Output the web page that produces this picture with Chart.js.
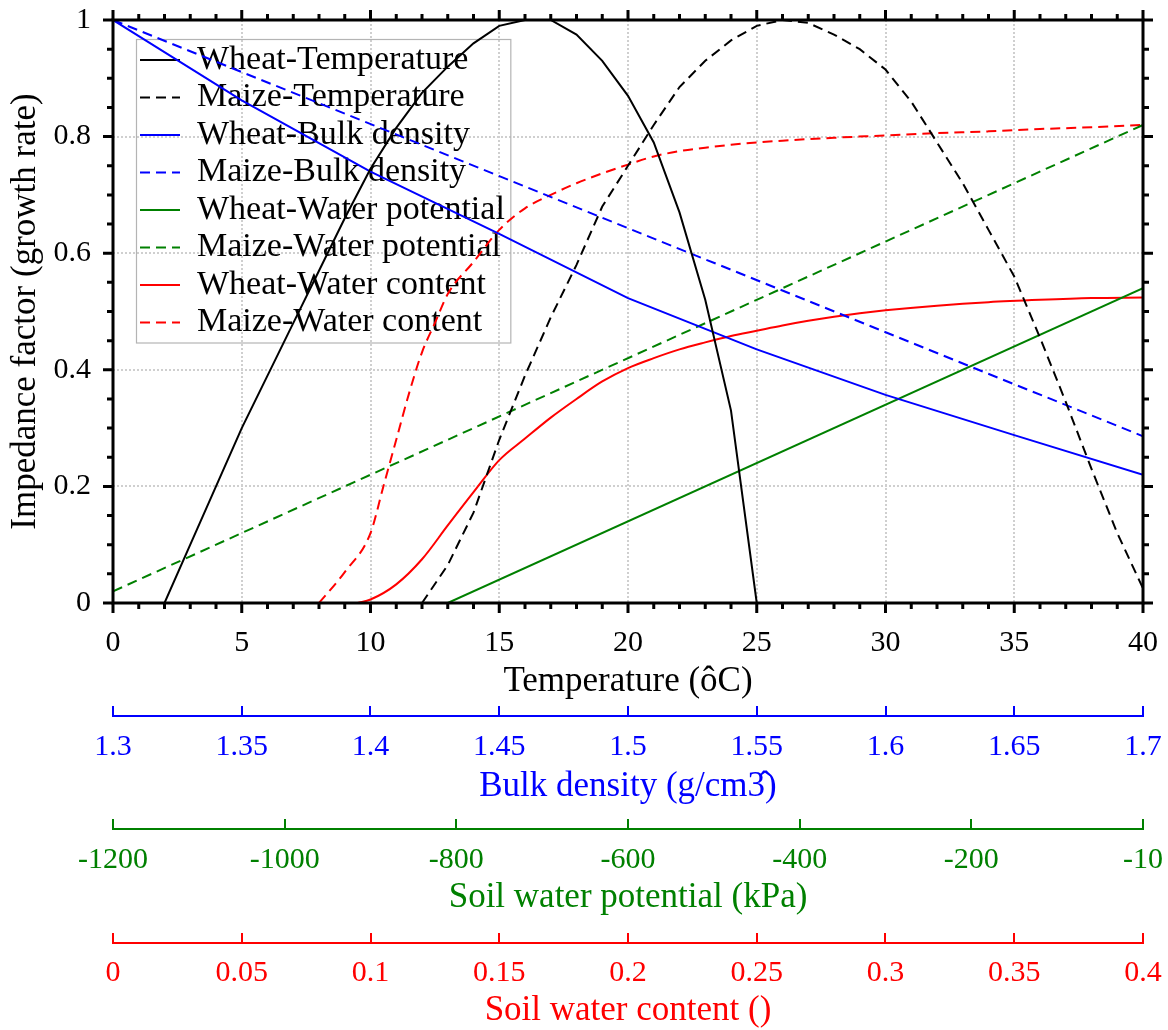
<!DOCTYPE html>
<html lang="en">
<head>
<meta charset="UTF-8">
<title>Impedance factor</title>
<script src="https://cdn.jsdelivr.net/npm/chart.js"></script>
<style>
  body { margin: 0; background: #fff; }
  canvas { display: block; }
</style>
</head>
<body>
<canvas id="impedanceChart" width="1168" height="1030"></canvas>
<script>
// every curve is plotted against temperature (the common x range)
const wheatTempX = [2, 3, 4, 5, 6, 7, 8, 9, 10, 11, 12, 13, 14, 15, 16, 17, 18, 19, 20, 21, 22, 23, 24, 25];
const wheatTempY = [0, 0.10, 0.20, 0.30, 0.39, 0.48, 0.57, 0.66, 0.745, 0.815, 0.875, 0.92, 0.96, 0.99, 1.0, 1.0, 0.975, 0.93, 0.87, 0.79, 0.67, 0.52, 0.33, 0];

const maizeTempX = [12, 13, 14, 15, 16, 17, 18, 19, 20, 21, 22, 23, 24, 25, 26, 27, 28, 29, 30, 31, 32, 33, 34, 35, 36, 37, 38, 39, 40];
const maizeTempY = [0, 0.065, 0.155, 0.28, 0.39, 0.49, 0.58, 0.68, 0.75, 0.82, 0.885, 0.93, 0.965, 0.99, 1.0, 0.995, 0.975, 0.95, 0.915, 0.86, 0.79, 0.72, 0.64, 0.56, 0.455, 0.345, 0.23, 0.12, 0.025];

const wheatBulkX = [0, 5, 10, 15, 20, 25, 30, 35, 40];
const wheatBulkY = [1.0, 0.862, 0.74, 0.633, 0.523, 0.435, 0.357, 0.288, 0.22];

const maizeBulkX = [0, 40];
const maizeBulkY = [1.0, 0.286];

const wheatPotX = [13, 40];
const wheatPotY = [0, 0.54];

const maizePotX = [0, 40];
const maizePotY = [0.02, 0.82];

const wheatContentX = [9.5, 10, 11, 12, 13, 14, 15, 16, 17, 18, 19, 20, 21, 22, 23, 24, 25, 26, 27, 28, 29, 30, 32, 34, 36, 38, 40];
const wheatContentY = [0, 0.006, 0.032, 0.075, 0.133, 0.19, 0.245, 0.282, 0.318, 0.35, 0.38, 0.403, 0.42, 0.435, 0.447, 0.458, 0.467, 0.476, 0.484, 0.491, 0.497, 0.502, 0.51, 0.516, 0.52, 0.523, 0.524];

const maizeContentX = [8, 9, 10, 10.5, 11, 11.5, 12, 12.5, 13, 14, 15, 16, 17, 18, 19, 20, 21, 22, 23, 24, 25, 26, 28, 30, 32, 34, 36, 38, 40];
const maizeContentY = [0, 0.053, 0.12, 0.2, 0.28, 0.36, 0.43, 0.48, 0.53, 0.585, 0.64, 0.677, 0.70, 0.72, 0.737, 0.752, 0.766, 0.775, 0.781, 0.786, 0.79, 0.793, 0.798, 0.802, 0.806, 0.809, 0.813, 0.816, 0.82];

// axis ticks and their labels
const tempTicks = [0, 5, 10, 15, 20, 25, 30, 35, 40];
const tempLabels = ['0', '5', '10', '15', '20', '25', '30', '35', '40'];
const factorTicks = [0, 0.2, 0.4, 0.6, 0.8, 1];
const factorLabels = ['0', '0.2', '0.4', '0.6', '0.8', '1'];
const bulkTicks = [1.3, 1.35, 1.4, 1.45, 1.5, 1.55, 1.6, 1.65, 1.7];
const bulkLabels = ['1.3', '1.35', '1.4', '1.45', '1.5', '1.55', '1.6', '1.65', '1.7'];
const potentialTicks = [-1200, -1000, -800, -600, -400, -200, 0];
const potentialLabels = ['-1200', '-1000', '-800', '-600', '-400', '-200', '-10'];
const contentTicks = [0, 0.05, 0.1, 0.15, 0.2, 0.25, 0.3, 0.35, 0.4];
const contentLabels = ['0', '0.05', '0.1', '0.15', '0.2', '0.25', '0.3', '0.35', '0.4'];

const BLUE = '#0000ff';
const GREEN = '#008000';
const RED = '#ff0000';
const DASH = [10, 6];
const TITLE_FONT = { size: 35, lineHeight: 1 };
const TICK_FONT = { size: 30, lineHeight: 1.2 };

Chart.defaults.font.family = "'Liberation Serif', 'Times New Roman', serif";
Chart.defaults.color = '#000';

function points(xs, ys) {
  return xs.map((x, i) => ({ x: x, y: ys[i] }));
}

function series(label, xs, ys, color, dashed, smooth) {
  return {
    label: label,
    data: points(xs, ys),
    borderColor: color,
    backgroundColor: color,
    borderWidth: 2,
    borderDash: dashed ? DASH : [],
    pointRadius: 0,
    cubicInterpolationMode: smooth ? 'monotone' : 'default',
    tension: 0,
    fill: false
  };
}

function fixedTicks(values) {
  return axis => { axis.ticks = values.map(v => ({ value: v })); };
}

// fixed box size, and no extra room for overhanging labels
function fixedHeight(h) {
  return axis => { axis.height = h; axis.paddingLeft = 0; axis.paddingRight = 0; };
}

const gridStyle = { color: '#cfcfcf', lineWidth: 2, drawTicks: false };

function extraAxis(weight, min, max, values, labels, color, title, height, pad, titlePad) {
  return {
    type: 'linear',
    position: 'bottom',
    weight: weight,
    min: min,
    max: max,
    afterBuildTicks: fixedTicks(values),
    afterFit: fixedHeight(height),
    ticks: { callback: (v, i) => labels[i], padding: pad, color: color, font: TICK_FONT },
    grid: { drawOnChartArea: false, color: color, lineWidth: 2, tickLength: -10 },
    border: { color: color, width: 2 },
    title: { display: true, text: title, color: color, font: TITLE_FONT, padding: { top: 0, bottom: titlePad } }
  };
}

// box frame with major/minor ticks on all four sides, plus legend border
const framePlugin = {
  id: 'frame',
  afterLayout(chart) {
    const lg = chart.legend;
    if (lg) {
      lg.left = chart.chartArea.left + 23.5;
      lg.top = chart.chartArea.top + 19.5;
    }
  },
  beforeDatasetsDraw(chart) {
    const lg = chart.legend;
    if (!lg || !lg.legendHitBoxes.length) return;
    const pad = lg.options.labels.padding;
    const boxes = lg.legendHitBoxes;
    const right = Math.max(...boxes.map(b => b.left + b.width)) + 6;
    const last = boxes[boxes.length - 1];
    const ctx = chart.ctx;
    ctx.save();
    ctx.strokeStyle = '#b4b4b4';
    ctx.lineWidth = 1.2;
    ctx.strokeRect(lg.left, lg.top, right - lg.left, last.top + last.height + pad - lg.top);
    ctx.restore();
  },
  afterDraw(chart) {
    const { ctx, chartArea: a, scales: { x, y } } = chart;
    ctx.save();
    ctx.strokeStyle = '#000';
    ctx.lineWidth = 3;
    ctx.strokeRect(a.left, a.top, a.right - a.left, a.bottom - a.top);
    ctx.beginPath();
    for (let t = 0; t <= 40; t++) {
      const px = x.getPixelForValue(t);
      const len = t % 5 === 0 ? 10 : 6;
      ctx.moveTo(px, a.bottom); ctx.lineTo(px, a.bottom + len);
      ctx.moveTo(px, a.top); ctx.lineTo(px, a.top - len);
    }
    for (let k = 0; k <= 20; k++) {
      const py = y.getPixelForValue(k * 0.05);
      const len = k % 4 === 0 ? 10 : 6;
      ctx.moveTo(a.left, py); ctx.lineTo(a.left - len, py);
      ctx.moveTo(a.right, py); ctx.lineTo(a.right + len, py);
    }
    ctx.stroke();
    ctx.restore();
  }
};

new Chart(document.getElementById('impedanceChart'), {
  type: 'line',
  data: {
    datasets: [
      series('Wheat-Temperature', wheatTempX, wheatTempY, '#000', false, false),
      series('Maize-Temperature', maizeTempX, maizeTempY, '#000', true, false),
      series('Wheat-Bulk density', wheatBulkX, wheatBulkY, BLUE, false, false),
      series('Maize-Bulk density', maizeBulkX, maizeBulkY, BLUE, true, false),
      series('Wheat-Water potential', wheatPotX, wheatPotY, GREEN, false, false),
      series('Maize-Water potential', maizePotX, maizePotY, GREEN, true, false),
      series('Wheat-Water content', wheatContentX, wheatContentY, RED, false, true),
      series('Maize-Water content', maizeContentX, maizeContentY, RED, true, true)
    ]
  },
  options: {
    responsive: false,
    animation: false,
    devicePixelRatio: 1,
    layout: { padding: { left: 0, right: 25, top: 20, bottom: 0 } },
    plugins: {
      tooltip: { enabled: false },
      legend: {
        position: 'chartArea',
        align: 'start',
        labels: {
          usePointStyle: true,
          pointStyle: 'line',
          pointStyleWidth: 40,
          padding: 3.5,
          color: '#000',
          font: { size: 34 },
          generateLabels: chart => Chart.defaults.plugins.legend.labels.generateLabels(chart).map(item => {
            const ds = chart.data.datasets[item.datasetIndex];
            item.lineDash = ds.borderDash;
            item.lineWidth = ds.borderWidth;
            item.strokeStyle = ds.borderColor;
            return item;
          })
        }
      }
    },
    scales: {
      x: {
        type: 'linear',
        position: 'bottom',
        weight: 0,
        min: 0,
        max: 40,
        afterBuildTicks: fixedTicks(tempTicks),
        afterFit: fixedHeight(113),
        ticks: { callback: (v, i) => tempLabels[i], padding: 22, color: '#000', font: TICK_FONT },
        grid: gridStyle,
        border: { display: false, dash: [2, 2] },
        title: { display: true, text: 'Temperature (ôC)', color: '#000', font: TITLE_FONT, padding: { top: 0, bottom: 16.5 } }
      },
      y: {
        type: 'linear',
        min: 0,
        max: 1,
        afterBuildTicks: fixedTicks(factorTicks),
        afterFit: axis => { axis.width = 113; axis.paddingTop = 0; axis.paddingBottom = 0; },
        ticks: { callback: (v, i) => factorLabels[i], padding: 22, color: '#000', font: TICK_FONT },
        grid: gridStyle,
        border: { display: false, dash: [2, 2] },
        title: { display: true, text: 'Impedance factor (growth rate)', color: '#000', font: TITLE_FONT, padding: { top: 8.5, bottom: 0 } }
      },
      xBulk: extraAxis(1, 1.3, 1.7, bulkTicks, bulkLabels, BLUE, 'Bulk density (g/cm3\u0302)', 113, 23, 24.5),
      xPotential: extraAxis(2, -1200, 0, potentialTicks, potentialLabels, GREEN, 'Soil water potential (kPa)', 114, 23, 27.5),
      xContent: extraAxis(3, 0, 0.4, contentTicks, contentLabels, RED, 'Soil water content ()', 87, 22, 1.5)
    }
  },
  plugins: [framePlugin]
});
</script>
</body>
</html>
